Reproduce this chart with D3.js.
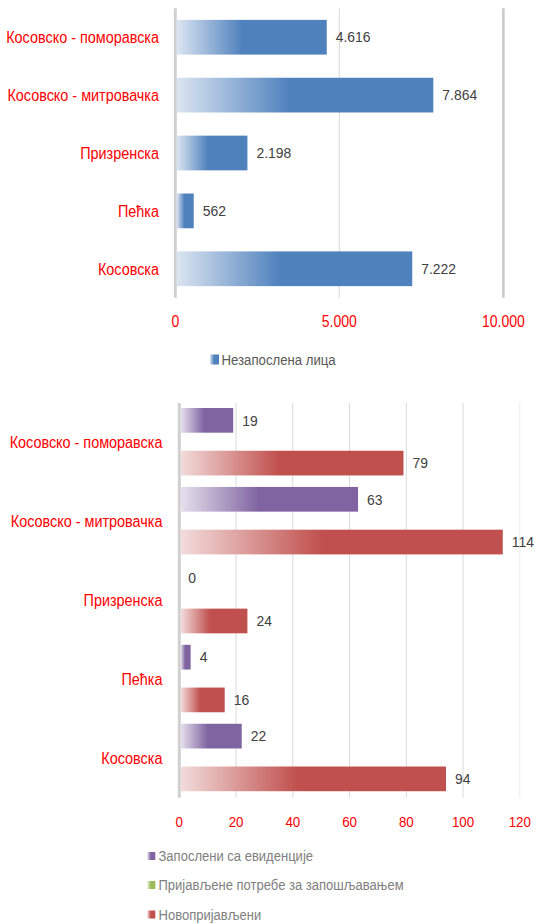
<!DOCTYPE html>
<html><head><meta charset="utf-8">
<script src="https://cdn.jsdelivr.net/npm/d3@7"></script>
<style>
html,body{margin:0;padding:0;background:#fff;}
svg text{font-family:"Liberation Sans",Arial,sans-serif;}
</style></head>
<body>
<svg id="c" width="536" height="924"></svg>
<script>
const regions = ["Косовско - поморавска","Косовско - митровачка","Призренска","Пећка","Косовска"];
const unemployed = [4616,7864,2198,562,7222];
const employedFromRecord = [19,63,0,4,22];
const jobVacancies = [null,null,null,null,null];
const newlyRegistered = [79,114,24,16,94];
const topTicks = [0,5000,10000];
const bottomTicks = [0,20,40,60,80,100,120];
const seriesNames = ["Запослени са евиденције","Пријављене потребе за запошљавањем","Новопријављени"];
const topLegend = "Незапослена лица";

const loc = d3.formatLocale({thousands:".",decimal:",",grouping:[3],currency:["",""]});
const fmt = loc.format(",d");

const svg = d3.select("#c");
const defs = svg.append("defs");
function grad(id, light, full){
  const g = defs.append("linearGradient").attr("id",id).attr("x1","0").attr("x2","1").attr("y1","0").attr("y2","0");
  g.append("stop").attr("offset","0").attr("stop-color",light);
  g.append("stop").attr("offset","0.44").attr("stop-color",full);
  g.append("stop").attr("offset","1").attr("stop-color",full);
}
grad("gBlue","#dbe5f1","#4f81bd");
grad("gPurple","#e5e0ec","#8064a2");
grad("gGreen","#ebf1de","#9bbb59");
grad("gRed","#f2dcdb","#c0504d");
const seriesFill = ["url(#gPurple)","url(#gGreen)","url(#gRed)"];

// narrow-font emulation: compress each text horizontally by factor k
function narrow(sel, k){
  sel.each(function(){
    const w = this.getComputedTextLength();
    d3.select(this).attr("textLength", w*k).attr("lengthAdjust","spacingAndGlyphs");
  });
}

// ---------- TOP CHART ----------
const T0 = 8.3, T1 = 297.7;
const x1 = d3.scaleLinear().domain([0,10000]).range([175.3,503.4]);
const y1 = d3.scaleBand().domain(regions).range([T0,T1]).paddingInner(0.4).paddingOuter(0.2);
const gTop = svg.append("g");
gTop.selectAll("line.grid").data(topTicks.slice(1)).join("line")
  .attr("x1",d=>x1(d)).attr("x2",d=>x1(d)).attr("y1",T0).attr("y2",T1)
  .attr("stroke",(d,i)=>i===topTicks.length-2?"#c8c8c8":"#d9d9d9")
  .attr("stroke-width",(d,i)=>i===topTicks.length-2?2.5:1);
gTop.append("line").attr("x1",x1(0)).attr("x2",x1(0)).attr("y1",T0).attr("y2",T1)
  .attr("stroke","#d0d0d0").attr("stroke-width",3);
gTop.selectAll("rect.bar").data(unemployed).join("rect")
  .attr("x",x1(0)+1.5).attr("y",(d,i)=>y1(regions[i]))
  .attr("width",d=>x1(d)-x1(0)-1.5).attr("height",y1.bandwidth())
  .attr("fill","url(#gBlue)");
gTop.selectAll("text.val").data(unemployed).join("text")
  .attr("x",d=>x1(d)+9).attr("y",(d,i)=>y1(regions[i])+y1.bandwidth()/2)
  .attr("dy","0.36em").attr("font-size",14.5).attr("fill","#404040").text(d=>fmt(d))
  .call(narrow,0.96);
gTop.selectAll("text.cat").data(regions).join("text")
  .attr("x",159).attr("y",d=>y1(d)+y1.bandwidth()/2).attr("dy","0.36em")
  .attr("text-anchor","end").attr("font-size",16).attr("fill","#ff0000").text(d=>d)
  .call(narrow,0.9);
gTop.selectAll("text.tick").data(topTicks).join("text")
  .attr("x",d=>x1(d)).attr("y",327).attr("text-anchor","middle")
  .attr("font-size",16.5).attr("fill","#ff0000").text(d=>fmt(d))
  .call(narrow,0.85);
gTop.append("rect").attr("x",210).attr("y",354.5).attr("width",9).attr("height",10).attr("fill","url(#gBlue)");
gTop.append("text").attr("x",221.5).attr("y",364.5).attr("font-size",15.5).attr("fill","#595959").text(topLegend)
  .call(narrow,0.85);

// ---------- BOTTOM CHART ----------
const B0 = 403, B1 = 797.7;
const x2 = d3.scaleLinear().domain([0,120]).range([179.3,519.8]);
const y2 = d3.scaleBand().domain(regions).range([B0,B1]);
const inner = d3.scalePoint().domain([0,1,2]).range([17.35,60.1]);
const barH = 24.7;
const gBot = svg.append("g");
gBot.selectAll("line.grid").data(bottomTicks.slice(1)).join("line")
  .attr("x1",d=>x2(d)).attr("x2",d=>x2(d)).attr("y1",B0).attr("y2",B1)
  .attr("stroke",(d,i)=>i===bottomTicks.length-2?"#ececec":"#d9d9d9").attr("stroke-width",1);
gBot.append("line").attr("x1",x2(0)).attr("x2",x2(0)).attr("y1",B0).attr("y2",B1)
  .attr("stroke","#d0d0d0").attr("stroke-width",3);
const series = [employedFromRecord, jobVacancies, newlyRegistered];
series.forEach((vals,s)=>{
  vals.forEach((v,i)=>{
    if(v===null) return;
    const yc = y2(regions[i]) + inner(s);
    if(v>0){
      gBot.append("rect").attr("x",x2(0)+1.5).attr("y",yc-barH/2)
        .attr("width",x2(v)-x2(0)-1.5).attr("height",barH).attr("fill",seriesFill[s]);
    }
    gBot.append("text").attr("x",x2(v)+9).attr("y",yc).attr("dy","0.36em")
      .attr("font-size",14.5).attr("fill","#404040").text(fmt(v))
      .call(narrow,0.96);
  });
});
gBot.selectAll("text.cat").data(regions).join("text")
  .attr("x",162.4).attr("y",d=>y2(d)+y2.bandwidth()/2).attr("dy","0.36em")
  .attr("text-anchor","end").attr("font-size",16).attr("fill","#ff0000").text(d=>d)
  .call(narrow,0.9);
gBot.selectAll("text.tick").data(bottomTicks).join("text")
  .attr("x",d=>x2(d)).attr("y",827).attr("text-anchor","middle")
  .attr("font-size",15.5).attr("fill","#ff0000").text(d=>fmt(d))
  .call(narrow,0.86);
const legY = [856,885,914.5];
seriesNames.forEach((n,i)=>{
  gBot.append("rect").attr("x",147.3).attr("y",legY[i]-4).attr("width",8).attr("height",8).attr("fill",seriesFill[i]);
  gBot.append("text").attr("x",158.5).attr("y",legY[i]).attr("dy","0.36em")
    .attr("font-size",14).attr("fill","#808080").text(n)
    .call(narrow,0.93);
});
</script>
</body></html>
